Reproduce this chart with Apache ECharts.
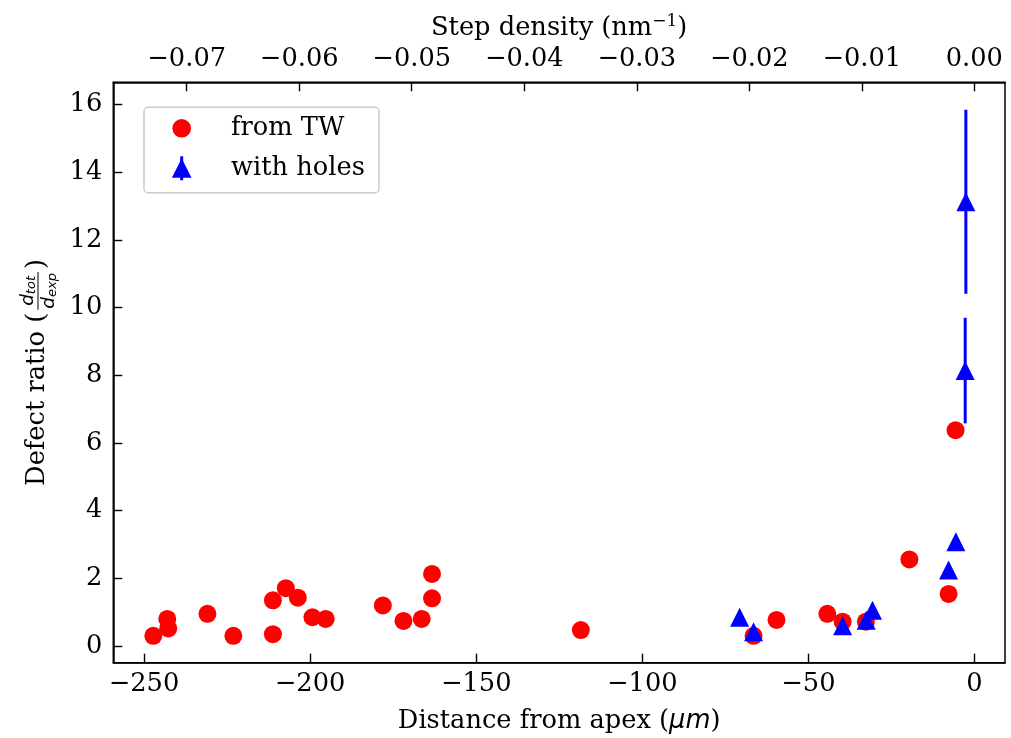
<!DOCTYPE html>
<html><head><meta charset="utf-8">
<script src="https://cdn.jsdelivr.net/npm/echarts@6/dist/echarts.min.js"></script>
<style>html,body{margin:0;padding:0;background:#fff}#c{width:1011px;height:738px}</style>
</head><body><div id="c"></div>
<script>
// ---- data ----
const twX = [-247.2, -243.0, -242.7, -230.9, -223.1, -211.2, -211.2, -207.3, -203.7, -199.3, -195.3, -178.1, -171.9, -166.4, -163.3, -163.3, -118.5, -66.5, -59.6, -44.3, -39.7, -32.7, -19.6, -7.8, -5.7];
const twY = [0.30, 0.80, 0.52, 0.95, 0.30, 1.35, 0.35, 1.71, 1.43, 0.85, 0.80, 1.20, 0.74, 0.80, 2.13, 1.41, 0.47, 0.30, 0.77, 0.95, 0.72, 0.72, 2.56, 1.54, 6.38];
const holesX = [-70.7, -66.5, -39.7, -32.6, -30.7, -7.8, -5.6, -2.8, -2.6];
const holesY = [0.85, 0.42, 0.60, 0.76, 1.06, 2.25, 3.08, 8.14, 13.13];
const holesErr = [0, 0, 0, 0, 0, 0, 0, 1.56, 2.72];
const bottomTicks = [-250, -200, -150, -100, -50, 0];
const topTicks = [-0.07, -0.06, -0.05, -0.04, -0.03, -0.02, -0.01, 0.00];
const yTicks = [0, 2, 4, 6, 8, 10, 12, 14, 16];
const xRange = [-259.24, 9.18];
const topRange = [-0.076524, 0.002729];
const yRange = [-0.493, 16.66];
const seriesNames = ['from TW', 'with holes'];

// ---- helpers ----
const FS = 25.7;
const SERIF = '"DejaVu Serif", serif';
const SANS = '"DejaVu Sans", sans-serif';
const fmt = (v, d) => (v < -1e-12 ? '\u2212' : '') + Math.abs(v).toFixed(d);
const ctx = document.createElement('canvas').getContext('2d');
function tw(text, size, fam, style) { ctx.font = (style || '') + ' ' + size + 'px ' + fam; return ctx.measureText(text).width; }

const twData = twX.map((x, i) => [x, twY[i]]);
const holesData = holesX.map((x, i) => [x, holesY[i]]);
const errData = holesX.map((x, i) => [x, holesY[i] - holesErr[i], holesY[i] + holesErr[i]]).filter((d, i) => holesErr[i] > 0);

const axisLineStyle = { color: '#000', width: 1.5 };
const tickCommon = { show: true, inside: true, length: 9, lineStyle: { color: '#000', width: 1.4 } };
const labelCommon = { color: '#000', fontSize: FS, fontFamily: SERIF };

// ---- y axis label (rotated, with fraction) ----
function buildYLabel() {
  const mainText = 'Defect ratio (';
  const w1 = tw(mainText, FS, SERIF);
  const fsD = 18.5, fsS = 13;
  const wd = tw('d', fsD, SANS, 'italic');
  const wTot = tw('tot', fsS, SANS, 'italic');
  const wExp = tw('exp', fsS, SANS, 'italic');
  const wn = wd + wTot, wdn = wd + wExp;
  const fx = w1 + 3;
  const fracW = Math.max(wn, wdn) + 2;
  const barY = 1;
  const wClose = tw(')', FS, SERIF);
  const cx = fx + fracW + 3;
  const W = cx + wClose;
  const els = [];
  const txt = (text, x, y, size, fam, style) => ({
    type: 'text', x, y,
    style: { text, fontSize: size, fontFamily: fam, fontStyle: style || 'normal', fill: '#000',
      textAlign: 'left', align: 'left', textVerticalAlign: 'middle', verticalAlign: 'middle' }
  });
  els.push(txt(mainText, 0, 0, FS, SERIF));
  const nx = fx + (fracW - wn) / 2, ny = barY - 10;
  els.push(txt('d', nx, ny, fsD, SANS, 'italic'));
  els.push(txt('tot', nx + wd, ny + 4, fsS, SANS, 'italic'));
  const dx = fx + (fracW - wdn) / 2, dy = barY + 11;
  els.push(txt('d', dx, dy, fsD, SANS, 'italic'));
  els.push(txt('exp', dx + wd, dy + 4, fsS, SANS, 'italic'));
  els.push({ type: 'line', shape: { x1: fx, y1: barY, x2: fx + fracW, y2: barY }, style: { stroke: '#000', lineWidth: 1 } });
  els.push(txt(')', cx, 0, FS, SERIF));
  return { type: 'group', x: 37, y: 372.5 + W / 2, rotation: Math.PI / 2, children: els };
}

// ---- legend (drawn) ----
function buildLegend() {
  const lx = 144, ly = 107.3;
  const ts = (text, y) => ({ type: 'text', x: lx + 87, y,
    style: { text, fontSize: FS, fontFamily: SERIF, fill: '#000', textAlign: 'left', align: 'left', textVerticalAlign: 'middle', verticalAlign: 'middle' } });
  return { type: 'group', children: [
    { type: 'rect', shape: { x: lx, y: ly, width: 235, height: 85.4, r: 4 }, style: { fill: 'rgba(255,255,255,0.8)', stroke: '#cccccc', lineWidth: 1.5 } },
    { type: 'circle', shape: { cx: lx + 37.7, cy: ly + 21, r: 9.3 }, style: { fill: '#ff0000' } },
    ts(seriesNames[0], ly + 21),
    { type: 'line', shape: { x1: lx + 37.7, y1: ly + 49, x2: lx + 37.7, y2: ly + 73 }, style: { stroke: '#0000ff', lineWidth: 3 } },
    { type: 'polygon', shape: { points: [[lx + 37.7, ly + 51], [lx + 47.5, ly + 70.5], [lx + 27.9, ly + 70.5]] }, style: { fill: '#0000ff' } },
    ts(seriesNames[1], ly + 61)
  ] };
}

const chart = echarts.init(document.getElementById('c'), null, { renderer: 'canvas' });
chart.setOption({
  animation: false,
  backgroundColor: '#fff',
  grid: { left: 113.3, top: 82.3, width: 891.7, height: 580.4, show: true, borderColor: '#000', borderWidth: 1.5, backgroundColor: 'transparent', containLabel: false, outerBoundsMode: 'none' },
  xAxis: [
    { type: 'value', position: 'bottom', min: xRange[0], max: xRange[1],
      name: '{a|Distance from apex (}{b|\u03bcm}{a|)}', nameLocation: 'middle', nameGap: 46,
      nameTextStyle: { rich: { a: { fontSize: FS, fontFamily: SERIF, color: '#000' }, b: { fontSize: FS, fontFamily: SANS, fontStyle: 'italic', color: '#000' } } },
      axisLine: { show: true, onZero: false, lineStyle: axisLineStyle }, splitLine: { show: false },
      axisTick: Object.assign({ customValues: bottomTicks }, tickCommon),
      axisLabel: Object.assign({ customValues: bottomTicks, margin: 9, formatter: v => fmt(v, 0) }, labelCommon) },
    { type: 'value', position: 'top', min: topRange[0], max: topRange[1],
      name: '{a|Step density (nm}{b|\u22121}{a|)}', nameLocation: 'middle', nameGap: 39,
      nameTextStyle: { rich: { a: { fontSize: FS, fontFamily: SERIF, color: '#000', lineHeight: 30 }, b: { fontSize: 17, fontFamily: SERIF, color: '#000', verticalAlign: 'top', lineHeight: 17 } } },
      axisLine: { show: true, onZero: false, lineStyle: axisLineStyle }, splitLine: { show: false },
      axisTick: Object.assign({ customValues: topTicks }, tickCommon),
      axisLabel: Object.assign({ customValues: topTicks, margin: 10, formatter: v => fmt(v, 2) }, labelCommon) }
  ],
  yAxis: { type: 'value', min: yRange[0], max: yRange[1],
    axisLine: { show: true, onZero: false, lineStyle: axisLineStyle }, splitLine: { show: false },
    axisTick: Object.assign({ customValues: yTicks }, tickCommon),
    axisLabel: Object.assign({ customValues: yTicks, margin: 11, formatter: v => fmt(v, 0) }, labelCommon) },
  graphic: [buildYLabel(), buildLegend()],
  series: [
    { name: seriesNames[0], type: 'scatter', xAxisIndex: 0, data: twData, symbol: 'circle', symbolSize: 18,
      itemStyle: { color: '#ff0000', opacity: 1 }, z: 2 },
    { name: seriesNames[1] + ' err', type: 'custom', xAxisIndex: 0, data: errData, z: 3,
      renderItem: (params, api) => {
        const p1 = api.coord([api.value(0), api.value(1)]);
        const p2 = api.coord([api.value(0), api.value(2)]);
        return { type: 'line', shape: { x1: p1[0], y1: p1[1], x2: p2[0], y2: p2[1] }, style: { stroke: '#0000ff', lineWidth: 3 } };
      } },
    { name: seriesNames[1], type: 'scatter', xAxisIndex: 0, data: holesData, symbol: 'triangle', symbolSize: [19, 19],
      itemStyle: { color: '#0000ff', opacity: 1 }, z: 4 }
  ]
});
</script></body></html>
